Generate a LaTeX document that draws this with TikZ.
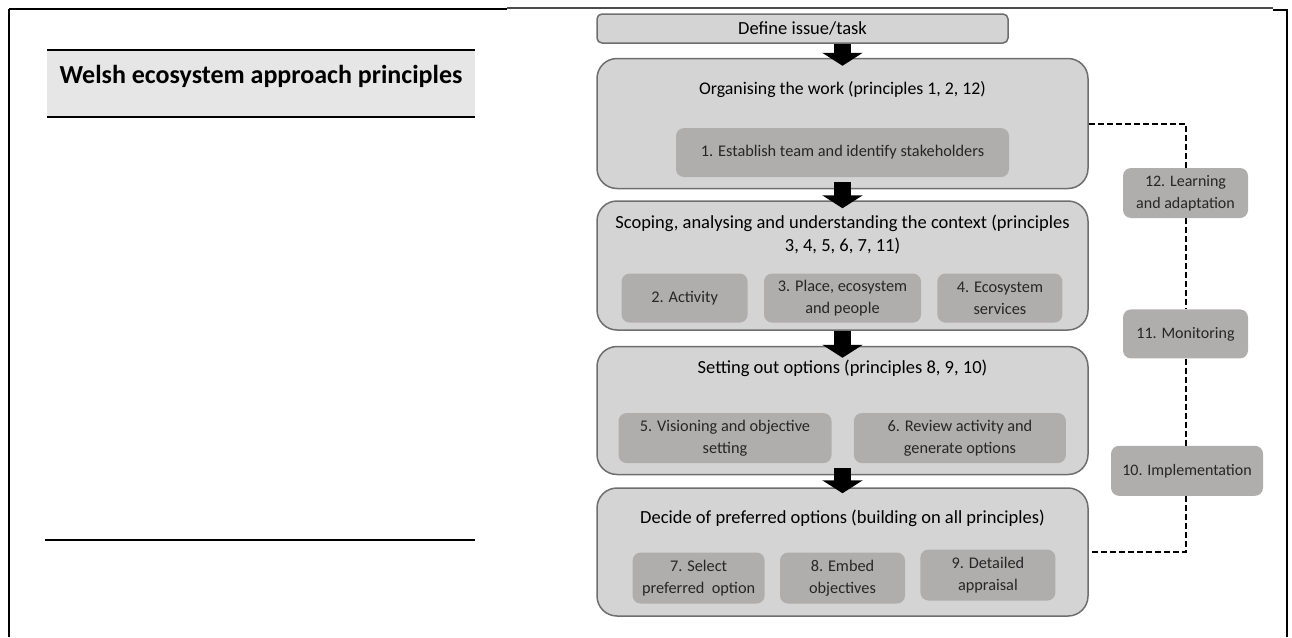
\documentclass[tikz,border=0pt]{standalone}
\usepackage{fontspec}
\setmainfont{Carlito}
\usetikzlibrary{positioning, arrows.meta}
\definecolor{boxfill}{HTML}{D5D4D4}
\definecolor{boxline}{HTML}{6E6E6E}
\definecolor{stepfill}{HTML}{B0ADAD}
\definecolor{headfill}{HTML}{E6E6E6}
\definecolor{textgray}{HTML}{262626}
\tikzstyle{stage} = [rectangle, rounded corners=20pt, minimum width=491pt, minimum height=128pt, draw=boxline, line width=1.5pt, fill=boxfill]
\tikzstyle{issue} = [rectangle, rounded corners=5pt, minimum width=411pt, minimum height=29pt, inner sep=0pt, draw=boxline, line width=1.5pt, fill=boxfill, font=\fontsize{18.5}{21}\selectfont]
\tikzstyle{heading} = [inner sep=0pt, align=center, text=black, font=\fontsize{18.5}{23}\selectfont]
\tikzstyle{stepbox} = [rectangle, rounded corners=8pt, minimum height=50pt, inner sep=0pt, align=center, fill=stepfill, text=textgray, font=\fontsize{16.3}{22}\selectfont]
\tikzstyle{loopbox} = [stepbox, font=\fontsize{16}{22}\selectfont]
\tikzstyle{bigarrow} = [line width=17pt, -{Triangle[width=40pt,length=13pt]}, shorten <=-7pt, shorten >=-8pt]
\tikzstyle{dashline} = [line width=2pt, dash pattern=on 6pt off 3pt]
\tikzstyle{frame} = [line width=2.5pt]

\begin{document}
\begin{tikzpicture}[x=1pt, y=-1pt]
        \useasboundingbox (0,0) rectangle (1292,637);

        % table frame round the figure
        \draw [frame] (9,9) -- (507,9);
        \draw [line width=1.2pt, black!70] (507,8) -- (1273,8);
        \draw [frame] (1273,10) -- (1287,10);
        \draw [frame] (9,9) -- (9,637);
        \draw [frame] (1287,9) -- (1287,637);

        % left column
        \fill [headfill] (47,50) rectangle (475,117);
        \draw [line width=2pt] (47,50) -- (475,50);
        \draw [line width=2pt] (47,117) -- (475,117);
        \node (headtext) at (261,76) {\fontsize{26}{30}\selectfont\bfseries Welsh ecosystem approach principles};
        \draw [line width=2pt] (45,540) -- (475,540);

        % main stages
        \node (define) [issue] at (802.5,28.5) {Define issue/task};
        \node (org) [stage, minimum height=130pt, below=14pt of define, xshift=40pt] {};
        \node (scoping) [stage, minimum height=129pt, below=11pt of org] {};
        \node (setting) [stage, below=15pt of scoping] {};
        \node (decide) [stage, below=12pt of setting] {};

        \node (orgtitle) [heading, font=\fontsize{17.8}{23}\selectfont] at ([yshift=-32pt]org.north) {Organising the work (principles 1, 2, 12)};
        \node (scopingtitle) [heading] at ([yshift=-34pt]scoping.north) {Scoping, analysing and understanding the context (principles\\3, 4, 5, 6, 7, 11)};
        \node (settingtitle) [heading] at ([yshift=-23pt]setting.north) {Setting out options (principles 8, 9, 10)};
        \node (decidetitle) [heading] at ([yshift=-31pt]decide.north) {Decide of preferred options (building on all principles)};

        \node (team) [stepbox, minimum width=333pt, minimum height=49pt, above=12pt of org.south] {1. Establish team and identify stakeholders};

        \node (place) [stepbox, minimum width=157pt, minimum height=49pt, above=8pt of scoping.south] {3. Place, ecosystem\\and people};
        \node (activity) [stepbox, minimum width=126pt, minimum height=49pt, left=16pt of place] {2. Activity};
        \node (services) [stepbox, minimum width=125pt, minimum height=49pt, right=16pt of place] {4. Ecosystem\\services};

        \node (vision) [stepbox, minimum width=213pt, above=12pt of setting.south, xshift=-117.5pt] {5. Visioning and objective\\setting};
        \node (review) [stepbox, minimum width=212pt, right=22pt of vision] {6. Review activity and\\generate options};

        \node (embed) [stepbox, minimum width=125pt, minimum height=51pt, above=13pt of decide.south] {8. Embed\\objectives};
        \node (select) [stepbox, minimum width=132pt, minimum height=51pt, left=15pt of embed] {7. Select\\preferred\ \ option};
        \node (appraisal) [stepbox, minimum width=135pt, minimum height=51pt, right=15pt of embed, yshift=3pt] {9. Detailed\\appraisal};

        % review loop
        \node (learning) [loopbox, minimum width=125pt] at (1185.5,193) {12. Learning\\and adaptation};
        \node (monitoring) [loopbox, minimum width=125pt, minimum height=49pt, below=91pt of learning] {11. Monitoring};
        \node (implement) [loopbox, minimum width=152pt, below=87pt of monitoring, xshift=1.5pt] {10. Implementation};

        \draw [bigarrow, shorten <=0pt] (define.south -| org.north) -- (org.north);
        \draw [bigarrow] (org.south) -- (scoping.north);
        \draw [bigarrow, shorten <=0pt, shorten >=-12pt] (scoping.south) -- (setting.north);
        \draw [bigarrow, shorten >=-6pt] (setting.south) -- (decide.north);

        \draw [dashline] (org.east) -| (learning.north);
        \draw [dashline] (learning.south) -- (monitoring.north);
        \draw [dashline] (monitoring.south) -- (monitoring.south |- implement.north);
        \draw [dashline] (implement.south -| monitoring.south) |- (decide.east);
\end{tikzpicture}
\end{document}
